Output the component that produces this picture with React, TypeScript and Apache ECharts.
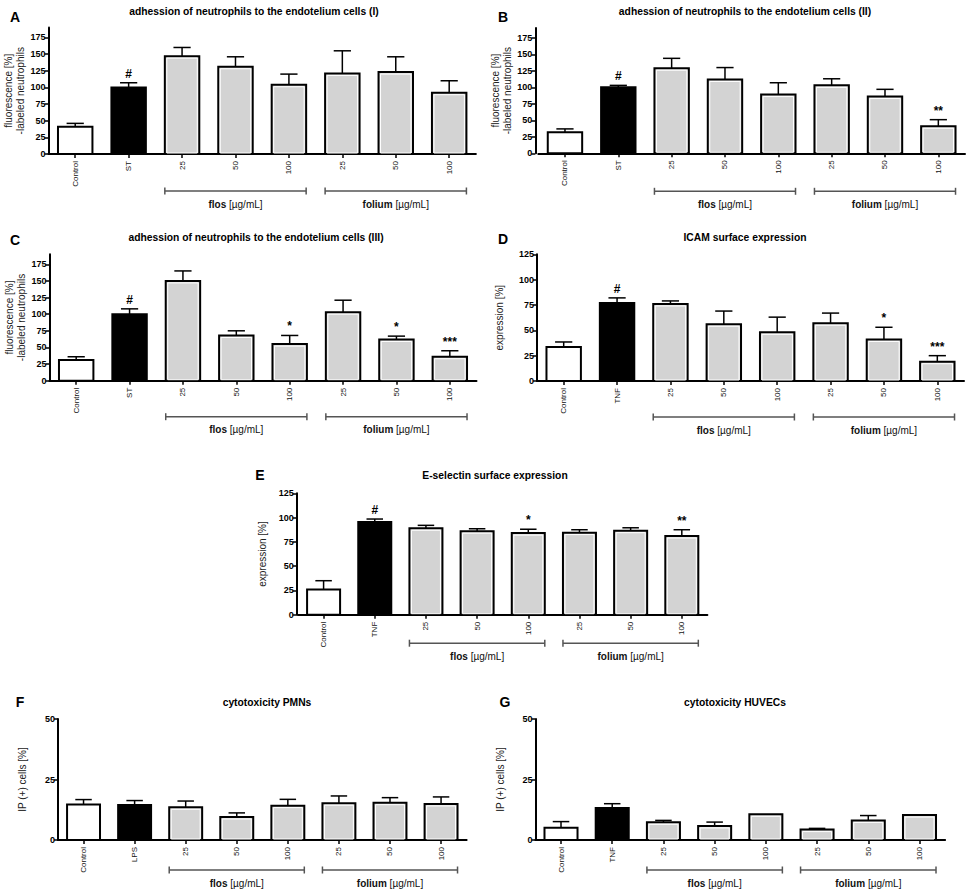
import React, { useEffect, useRef } from "react";
import * as echarts from "echarts";

// ---------- data ----------
const catsST = ["Control", "ST", "25", "50", "100", "25", "50", "100"];
const catsTNF = ["Control", "TNF", "25", "50", "100", "25", "50", "100"];
const catsLPS = ["Control", "LPS", "25", "50", "100", "25", "50", "100"];
const barKinds = [0, 1, 2, 2, 2, 2, 2, 2]; // 0 white, 1 black, 2 grey
const groupNames = ["flos", "folium"];
const groupUnit = " [µg/mL]";
const groupSpans = [
  [2, 4],
  [5, 7],
];

const meanA = [41, 100, 147, 131, 104, 121, 123, 92];
const semA = [5, 7, 13, 15, 16, 34, 23, 18];
const sigA = ["", "#", "", "", "", "", "", ""];

const meanB = [32, 100, 129, 112, 89, 103, 86, 41];
const semB = [5, 3, 15, 18, 18, 10, 11, 10];
const sigB = ["", "#", "", "", "", "", "", "**"];

const meanC = [31, 100, 150, 68, 55, 103, 62, 36];
const semC = [5, 8, 15, 7, 13, 18, 5, 9];
const sigC = ["", "#", "", "", "*", "", "*", "***"];

const meanD = [33.5, 77, 76, 56, 48, 57, 41, 19];
const semD = [5, 5, 3, 13, 15, 10, 12, 6];
const sigD = ["", "#", "", "", "", "", "*", "***"];

const meanE = [26, 95.5, 89, 86, 84, 84.5, 86.5, 81];
const semE = [9, 3, 3, 2.5, 4, 3, 3, 6.5];
const sigE = ["", "#", "", "", "*", "", "", "**"];

const meanF = [14.7, 14.5, 13.5, 9.5, 14.2, 15.2, 15.4, 14.9];
const semF = [2, 1.8, 2.6, 1.7, 2.6, 3, 2.1, 2.9];
const sigF = ["", "", "", "", "", "", "", ""];

const meanG = [5.1, 13.2, 7.3, 5.8, 10.6, 4.3, 8.1, 10.3];
const semG = [2.5, 1.8, 0.8, 1.6, 0, 0.5, 2, 0];
const sigG = ["", "", "", "", "", "", "", ""];

const ticks175 = [0, 25, 50, 75, 100, 125, 150, 175];
const ticks125 = [0, 25, 50, 75, 100, 125];
const ticks50 = [0, 25, 50];

const titleA = "adhession of neutrophils to the endotelium cells (I)";
const titleB = "adhession of neutrophils to the endotelium cells (II)";
const titleC = "adhession of neutrophils to the endotelium cells (III)";
const titleD = "ICAM surface expression";
const titleE = "E-selectin surface expression";
const titleF = "cytotoxicity PMNs";
const titleG = "cytotoxicity HUVECs";

const yNameFluo = "fluorescence [%]\n-labeled neutrophils";
const yNameExpr = "expression [%]";
const yNameIP = "IP (+) cells [%]";

// ---------- layout ----------
const FONT = "'Liberation Sans', Arial, Helvetica, sans-serif";
const FILLS = ["#ffffff", "#000000", "#d3d3d3"];
const BAR_FRAC = 0.645;

const panels = [
  { letter: "A", cats: catsST, mean: meanA, sem: semA, sig: sigA, title: titleA, yName: yNameFluo, yMax: 190, ticks: ticks175,
    grid: { left: 48.5, top: 27.5, width: 427.4, height: 126.5 }, yOffset: 0, nameGap: 20, bracketOff: 37, titlePos: [254, 11], letterPos: [15, 16.5] },
  { letter: "B", cats: catsST, mean: meanB, sem: semB, sig: sigB, title: titleB, yName: yNameFluo, yMax: 190, ticks: ticks175,
    grid: { left: 538.3, top: 28, width: 426.7, height: 125.3 }, yOffset: 3, nameGap: 18, bracketOff: 38, titlePos: [745, 11], letterPos: [503, 16.5] },
  { letter: "C", cats: catsST, mean: meanC, sem: semC, sig: sigC, title: titleC, yName: yNameFluo, yMax: 190, ticks: ticks175,
    grid: { left: 49.5, top: 254.3, width: 427, height: 126.4 }, yOffset: 0, nameGap: 17, bracketOff: 36, titlePos: [256, 237], letterPos: [15, 240] },
  { letter: "D", cats: catsTNF, mean: meanD, sem: semD, sig: sigD, title: titleD, yName: yNameExpr, yMax: 125, ticks: ticks125,
    grid: { left: 537, top: 254.3, width: 427, height: 126.7 }, yOffset: 0, nameGap: 32, bracketOff: 36, titlePos: [745, 237], letterPos: [503, 239] },
  { letter: "E", cats: catsTNF, mean: meanE, sem: semE, sig: sigE, title: titleE, yName: yNameExpr, yMax: 125, ticks: ticks125,
    grid: { left: 298, top: 493.3, width: 409.4, height: 121.4 }, yOffset: 1.3, nameGap: 28, bracketOff: 28.5, titlePos: [495, 475], letterPos: [260, 475] },
  { letter: "F", cats: catsLPS, mean: meanF, sem: semF, sig: sigF, title: titleF, yName: yNameIP, yMax: 50, ticks: ticks50,
    grid: { left: 58, top: 719, width: 408.6, height: 121 }, yOffset: 0, nameGap: 30, bracketOff: 30, titlePos: [267, 702], letterPos: [20, 702] },
  { letter: "G", cats: catsTNF, mean: meanG, sem: semG, sig: sigG, title: titleG, yName: yNameIP, yMax: 50, ticks: ticks50,
    grid: { left: 535.4, top: 719, width: 409.7, height: 121 }, yOffset: 0, nameGap: 29, bracketOff: 30, titlePos: [735, 702], letterPos: [505, 702] },
];

function buildOption() {
  const grid = panels.map((p) => ({ ...p.grid, containLabel: false, outerBoundsMode: "none" }));

  const xAxis = panels.map((p, i) => ({
    gridIndex: i,
    type: "category",
    data: p.cats,
    boundaryGap: true,
    axisLine: { show: true, lineStyle: { color: "#000", width: 2 } },
    axisTick: { show: true, alignWithLabel: true, length: 4, lineStyle: { color: "#000", width: 1.5 } },
    axisLabel: { rotate: 90, interval: 0, fontSize: 8, fontFamily: FONT, color: "#111", margin: 7 },
    splitLine: { show: false },
  }));

  const yAxis = panels.map((p, i) => ({
    gridIndex: i,
    type: "value",
    min: 0,
    max: p.yMax,
    interval: 25,
    offset: p.yOffset,
    name: p.yName,
    nameLocation: "middle",
    nameGap: p.nameGap,
    nameRotate: 90,
    nameTextStyle: { fontSize: 10, fontFamily: FONT, color: "#222", lineHeight: 12 },
    axisLine: { show: true, lineStyle: { color: "#000", width: 2 } },
    axisTick: { show: true, length: 4, customValues: p.ticks, lineStyle: { color: "#000", width: 1.5 } },
    axisLabel: {
      customValues: p.ticks,
      fontSize: 9,
      fontWeight: "bold",
      fontFamily: FONT,
      color: "#000",
      margin: 3,
      formatter: (v: number) => (p.ticks.indexOf(v) >= 0 ? String(v) : ""),
    },
    splitLine: { show: false },
  }));

  const series: any[] = [];
  panels.forEach((p, i) => {
    const data = p.mean.map((m, k) => [k, m, p.sem[k], barKinds[k]]);
    series.push({
      type: "custom",
      xAxisIndex: i,
      yAxisIndex: i,
      clip: false,
      encode: { x: 0, y: 1 },
      data,
      renderItem: (params: any, api: any) => {
        const idx = api.value(0);
        const m = api.value(1);
        const s = api.value(2);
        const kind = api.value(3);
        const base = api.coord([idx, 0]);
        const top = api.coord([idx, m]);
        const et = api.coord([idx, m + s]);
        const band = api.size([1, 0])[0];
        const bw = band * BAR_FRAC;
        const x = base[0];
        const children: any[] = [];
        if (s > 0) {
          children.push({
            type: "line",
            shape: { x1: x, y1: top[1], x2: x, y2: et[1] },
            style: { stroke: "#000", lineWidth: 1.5 },
          });
          children.push({
            type: "line",
            shape: { x1: x - bw / 4, y1: et[1], x2: x + bw / 4, y2: et[1] },
            style: { stroke: "#000", lineWidth: 1.5 },
          });
        }
        children.push({
          type: "rect",
          shape: { x: x - bw / 2, y: top[1], width: bw, height: base[1] - top[1] },
          style: { fill: FILLS[kind], stroke: "#000", lineWidth: 2 },
        });
        if (kind === 2) {
          children.push({
            type: "rect",
            shape: { x: x - bw / 2 + 2, y: top[1] + 2, width: bw - 4, height: base[1] - top[1] - 3 },
            style: { fill: "none", stroke: "#ffffff", lineWidth: 1 },
          });
        }
        const sg = p.sig[idx];
        if (sg) {
          children.push({
            type: "text",
            x: x,
            y: et[1] - 3,
            style: {
              text: sg,
              font: `bold 12px ${FONT}`,
              fill: "#000",
              align: "center",
              verticalAlign: "bottom",
              textAlign: "center",
              textVerticalAlign: "bottom",
            },
          });
        }
        return { type: "group", children };
      },
      z: 3,
    });

    // group brackets below the axis
    series.push({
      type: "custom",
      xAxisIndex: i,
      yAxisIndex: i,
      clip: false,
      encode: { x: [0, 1], y: 2 },
      data: groupSpans.map((g) => [g[0], g[1], 0]),
      renderItem: (params: any, api: any) => {
        const a = api.coord([api.value(0), 0]);
        const b = api.coord([api.value(1), 0]);
        const band = api.size([1, 0])[0];
        const bw = band * BAR_FRAC;
        const x1 = a[0] - bw / 2;
        const x2 = b[0] + bw / 2;
        const y = a[1] + p.bracketOff;
        const name = groupNames[params.dataIndex];
        const col = "#555";
        return {
          type: "group",
          children: [
            { type: "line", shape: { x1, y1: y, x2, y2: y }, style: { stroke: col, lineWidth: 1.5 } },
            { type: "line", shape: { x1, y1: y - 3.5, x2: x1, y2: y + 3.5 }, style: { stroke: col, lineWidth: 1.5 } },
            { type: "line", shape: { x1: x2, y1: y - 3.5, x2: x2, y2: y + 3.5 }, style: { stroke: col, lineWidth: 1.5 } },
            {
              type: "text",
              x: (x1 + x2) / 2,
              y: y + 13,
              style: {
                text: `{b|${name}}{r|${groupUnit}}`,
                rich: {
                  b: { fontWeight: "bold", fontSize: 10, fontFamily: FONT, fill: "#111", color: "#111" },
                  r: { fontSize: 10, fontFamily: FONT, fill: "#111", color: "#111" },
                },
                font: `10px ${FONT}`,
                fill: "#111",
                align: "center",
                verticalAlign: "middle",
                textAlign: "center",
                textVerticalAlign: "middle",
              },
            },
          ],
        };
      },
      z: 2,
    });
  });

  const graphic: any[] = [];
  panels.forEach((p) => {
    graphic.push({
      type: "text",
      x: p.titlePos[0],
      y: p.titlePos[1],
      style: {
        text: p.title,
        font: `bold 10.3px ${FONT}`,
        fill: "#000",
        textAlign: "center",
        textVerticalAlign: "middle",
        align: "center",
        verticalAlign: "middle",
      },
    });
    graphic.push({
      type: "text",
      x: p.letterPos[0],
      y: p.letterPos[1],
      style: {
        text: p.letter,
        font: `bold 14px ${FONT}`,
        fill: "#000",
        textAlign: "center",
        textVerticalAlign: "middle",
        align: "center",
        verticalAlign: "middle",
      },
    });
  });

  return {
    animation: false,
    backgroundColor: "#ffffff",
    textStyle: { fontFamily: FONT },
    grid,
    xAxis,
    yAxis,
    series,
    graphic,
  };
}

export default function App() {
  const ref = useRef<HTMLDivElement>(null);
  useEffect(() => {
    if (!ref.current) return;
    const chart = echarts.init(ref.current, undefined, { renderer: "svg" });
    chart.setOption(buildOption() as any);
    return () => chart.dispose();
  }, []);
  return (
    <div
      ref={ref}
      style={{ position: "absolute", left: 0, top: 0, width: 970, height: 891, background: "#fff" }}
    />
  );
}
